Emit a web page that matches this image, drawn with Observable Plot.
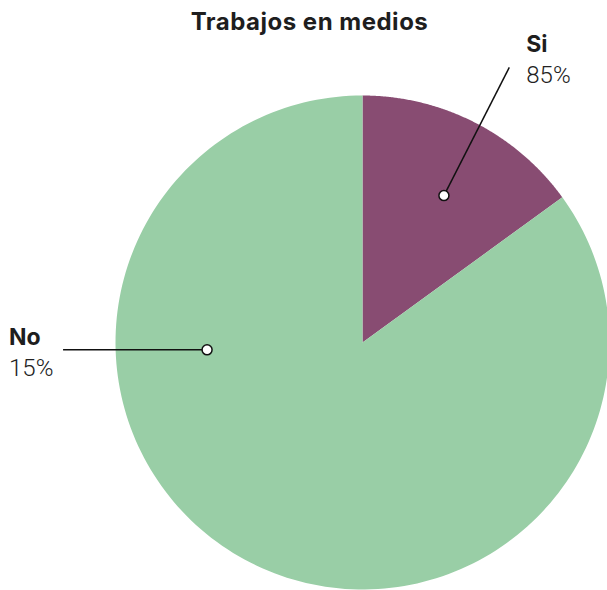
<!DOCTYPE html>
<html>
<head>
<meta charset="utf-8">
<script src="https://cdn.jsdelivr.net/npm/d3@7"></script>
<script src="https://cdn.jsdelivr.net/npm/@observablehq/plot@0.6"></script>
<style>
  html, body { margin: 0; padding: 0; background: #fff; }
  #wrap { width: 607px; height: 590px; overflow: hidden; position: relative; }
  #title { position: absolute; left: 0; top: 10px; width: 607px; box-sizing: border-box; padding-left: 12px; text-align: center;
           font-family: Inter, sans-serif; font-weight: 700; font-size: 24px; letter-spacing: 0.5px; line-height: 23px; color: #1e1e1e; z-index: 2; }
  svg { display: block; }
</style>
</head>
<body>
<div id="wrap">
  <div id="title">Trabajos en medios</div>
  <div id="chart"></div>
</div>
<script>
// ---- data ----
const names = ["Si", "No"];
const values = [15, 85];
const percentLabels = ["85%", "15%"];
const colors = ["#884c72", "#99cea6"];

// ---- layout ----
const W = 607, H = 590;
const cx = 362, cy = 342, R = 247;           // pie centre / radius in px
const anchorAngles = [29, 267.3];             // label dot angle (deg, clockwise from top)
const anchorRadii = [0.68, 0.63];             // fraction of radius
const leaderAngles = [27, 270];               // leader direction
const leaderLen = 0.583;                      // fraction of radius
const nameDx = [17, -54], nameDy = [-15.7, -5.3], pctDy = [15.3, 25.7];

const rad = d => d * Math.PI / 180;
const arcs = d3.pie().sort(null)(values);
const pts = [];
arcs.forEach((a, i) => {
  pts.push({name: names[i], x: 0, y: 0});
  const N = 200;
  for (let k = 0; k <= N; k++) {
    const t = a.startAngle + (a.endAngle - a.startAngle) * k / N;
    pts.push({name: names[i], x: Math.sin(t), y: Math.cos(t)});
  }
  pts.push({name: names[i], x: 0, y: 0});
});

const labels = names.map((n, i) => {
  const ax = anchorRadii[i] * Math.sin(rad(anchorAngles[i]));
  const ay = anchorRadii[i] * Math.cos(rad(anchorAngles[i]));
  const ex = ax + leaderLen * Math.sin(rad(leaderAngles[i]));
  const ey = ay + leaderLen * Math.cos(rad(leaderAngles[i]));
  return {name: n, pct: percentLabels[i], ax, ay, ex, ey, i};
});

const chart = Plot.plot({
  width: W, height: H,
  margin: 0,
  x: {domain: [-cx / R, (W - cx) / R], axis: null},
  y: {domain: [-(H - cy) / R, cy / R], axis: null},
  color: {domain: names, range: colors},
  style: {background: "transparent"},
  marks: [
    Plot.line(pts, {x: "x", y: "y", z: "name", fill: "name", stroke: "none", curve: "linear"}),
    Plot.link(labels, {x1: "ax", y1: "ay", x2: "ex", y2: "ey", stroke: "#111", strokeWidth: 1.5}),
    Plot.dot(labels, {x: "ax", y: "ay", r: 5, fill: "white", stroke: "#111", strokeWidth: 1.5}),
    ...labels.map(l => Plot.text([l], {x: "ex", y: "ey", text: "name", textAnchor: "start", lineAnchor: "bottom",
      dx: nameDx[l.i], dy: nameDy[l.i], fontSize: 23, fontWeight: 700, fontFamily: "Inter", fill: "#1e1e1e"})),
    ...labels.map(l => Plot.text([l], {x: "ex", y: "ey", text: "pct", textAnchor: "start", lineAnchor: "bottom",
      dx: nameDx[l.i], dy: pctDy[l.i], fontSize: 24, fontWeight: 300, fontFamily: "Roboto", fill: "#222"}))
  ]
});
document.getElementById("chart").appendChild(chart);
</script>
</body>
</html>
